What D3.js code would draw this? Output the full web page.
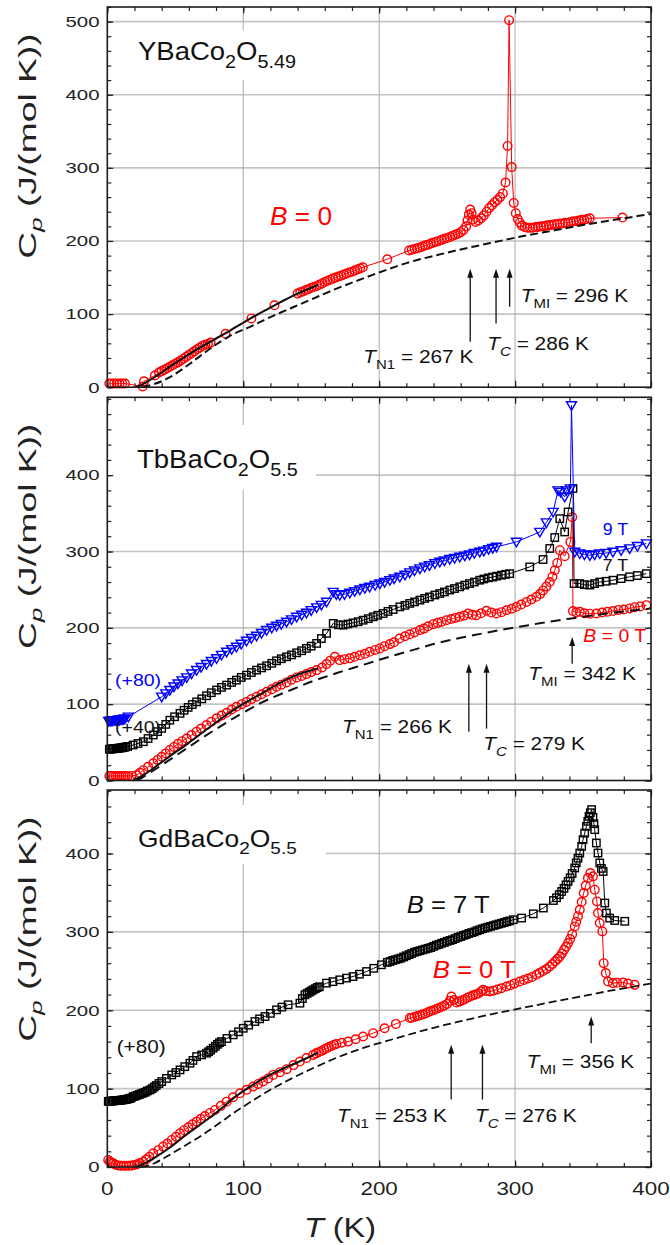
<!DOCTYPE html>
<html>
<head>
<meta charset="utf-8">
<script src="https://cdn.jsdelivr.net/npm/d3@7"></script>
<style>
  html, body { margin: 0; padding: 0; background: #fff; }
  svg { display: block; }
</style>
</head>
<body>
<svg id="chart" width="670" height="1245"></svg>
<script>
// ---------- axis ticks ----------
const T_TICKS = [0, 100, 200, 300, 400];
const CP_TICKS = [0, 100, 200, 300, 400, 500];

// ---------- YBaCo2O5.49, B = 0 : [T (K), Cp (J/(mol K))] ----------
const ybco_B0 = [
  [1.5,5],[3,5],[5,5],[7,5],[9,5],[11,5],[13,5],[26,1],[27,8],[35,16],
  [38,20],[40,22],[42,24],[44,26],[46,28],[48,30],[50,32],[52,34],[54,36.5],[56,39],
  [58,41.5],[60,44],[62,46.5],[64,49],[66,52],[68,54],[70,56.5],[72,58],[74,59],[76,61],
  [87,73],[106,94],[123,112],[140,128],[142,130],[144,131],[146,133],[148,134],[150,136],[152,137],
  [154,138.5],[156,140],[158,142],[160,144],[162,145.5],[164,147],[166,148.5],[168,150],[170,151.5],[172,152.5],
  [174,154],[176,155.5],[178,157],[180,158],[182,159.5],[184,161],[186,162.5],[188,164],[206,175],[222,187],
  [224,188],[226,189],[228,190],[230,191],[232,192.5],[234,194],[236,195],[238,196.5],[240,198],[242,199],
  [244,200],[246,201.5],[248,203],[250,204],[252,205.5],[254,207],[256,208.5],[258,210],[260,212],[262,215],
  [264,220],[265,228],[266,236],[267,243],[268,238],[269,229],[271,226],[273,228],[275,231],[277,235],
  [279,240],[281,245],[283,249],[285,253],[287,256],[289,260],[291,265],[293,280],[294.5,330],[295.6,502],
  [297.5,301],[299,252],[300.5,238],[302,230],[303.5,225],[305,221],[307,219],[309,218],[311,218],[313,218],
  [315,219],[317,219],[319,220],[321,220],[323,221],[325,222],[327,222],[329,223],[331,223],[333,224],
  [335,224],[337,225],[339,225],[341,226],[343,227],[345,227],[347,228],[349,229],[351,229],[353,230],
  [355,231],[379,232]
];
const ybco_fit = [
  [21,0],[25,3],[30,8],[35,14],[40,20],[45,27],[50,33],[55,39],[60,45],[65,51],
  [70,56],[75,61],[80,67],[85,72],[90,77],[95,83],[100,88],[105,94],[110,99],[115,104],
  [120,109],[125,114],[130,119],[135,123.5],[140,128],[145,132],[150,136],[155,140]
];
const ybco_lattice = [
  [26,0],[30,2],[35,4.5],[40,8],[45,12.5],[50,18],[55,24.5],[60,31],[65,38],[70,45],
  [75,52],[80,58.5],[85,64.5],[90,70],[95,75],[100,78.5],[105,82.5],[110,87],[115,91.5],[120,96],
  [125,100],[130,104],[135,108],[140,112],[145,116],[150,120],[155,124],[160,128],[170,136],[180,143],
  [190,150],[200,157],[210,163.5],[220,170],[230,175],[240,179.5],[250,184],[260,188.5],[270,192.5],[280,196.5],
  [290,200.5],[300,204.5],[310,208],[320,211.5],[330,215],[340,218.5],[350,222],[360,225],[370,228],[380,231],
  [390,234],[400,237]
];

// ---------- TbBaCo2O5.5 ----------
const tbco_B0 = [
  [1.5,6],[3,6],[4.5,6],[6,6],[7.5,6],[9,6],[10.5,6],[12,6],[13.5,6],[15,6],
  [18,6],[21.6,7],[24,10],[26.5,13.5],[30,18],[33.8,22.5],[37,27],[40,31],[43,35.5],[46,40],
  [49,44],[52,48],[55,51.5],[58.4,55],[62,59.5],[65.7,64],[69,68],[73,72.6],[76.5,77],[80.4,81.4],
  [84,85],[87.8,88.7],[91.5,93],[95,96.6],[99,100],[102.4,103],[106,106.5],[109.8,109.7],[113.5,113],[117.2,116.2],
  [121,119.5],[124.5,122.8],[128,125.5],[131.9,128.5],[135.5,132],[139.3,135],[143,137],[146.5,139.4],[150,142],[154,144.6],
  [158,148],[161.3,152.5],[164,157],[167.4,162],[171,157.7],[174.5,159],[178.4,160],[182,162],[185.8,164],[189.5,166],
  [193,168.6],[197,171],[200.5,173],[204,176],[207.9,178.7],[211,181],[215,186],[219,189],[222.5,191.5],[226,194],
  [230,197],[233,199],[236,202],[239.7,204.8],[243,206.5],[246,208],[249.5,210],[253,211.5],[256,213],[259.3,214.4],
  [262.5,216],[265.5,218.8],[268.5,217],[271.6,216.6],[275,219],[279,222.3],[282.5,220],[286.3,218.8],[290,220.5],[293.7,223],
  [297.5,225],[301,227.5],[304.5,230.5],[308.4,234],[312,237],[315.7,240.6],[318.5,244.5],[320.6,249],[323,254],[325.5,260],
  [327.5,267],[329.2,275.5],[331,285],[332.9,301.7],[336.5,293.8],[340.7,312.6],[342,345],[342.6,222],[345,220],[347.6,221],
  [351,219],[355,218.5],[359.8,218.8],[364,220],[368,221],[372,222],[376,223.5],[380,224],[384.3,225.4],[388,227],
  [392,228],[396.6,229.7]
];
// 7 T, shifted by +40
const tbco_B7 = [
  [1.5,41],[2.5,41],[3.5,41.5],[4.5,41.5],[5.5,42],[6.5,42],[7.5,42],[8.5,42.5],[9.5,42.5],[10.5,43],
  [11.5,43],[12.5,43.5],[13.5,44],[15,44.5],[19,46.5],[22.5,48.5],[26.5,50.8],[30,55],[33.8,59.6],[37,64],
  [40,68.3],[43,73.5],[46,79],[49.5,83.5],[53.5,88],[56.5,92],[59.5,95.8],[62.5,99.5],[65.7,103],[69.5,107],
  [73,111],[76.5,115],[80.4,118.5],[84,122],[87.8,125],[91.5,128.5],[95,131.5],[98.5,135],[102.4,138],[106,141.5],
  [109.8,144.6],[113.5,147.5],[117.2,150.3],[121,153.5],[124.5,156.8],[128,159.5],[131.9,162],[135.5,164.5],[139.3,167.3],[143,170],
  [146.5,173],[150,176],[154,179.6],[157.5,186],[161.3,192.7],[166.2,205.8],[170,204],[173.5,203.5],[177,205],[180.8,206.5],
  [184.5,208],[188.2,210],[192,212],[195.6,214.4],[199,216.5],[202.9,218.8],[206.5,221.5],[210.3,224],[215.2,227.5],[219,229.5],
  [222.5,232],[226,234],[230,236.3],[233.5,238.5],[237,240.5],[241,243],[244.6,245],[248,247],[252,249.5],[255.5,251.5],
  [259.3,253.7],[263,256],[266.5,258],[270,260],[274,262.4],[277,264],[280.5,265.5],[283.5,266.5],[286.3,267.7],[290,269],
  [293,270],[296,271],[310.8,279.8],[320.6,289.5],[325.5,304],[329.2,318.3],[332.9,343],[336.5,325.6],[339,351.8],[342.6,382.5],
  [343.4,258],[347.6,258],[351,256.5],[355,256],[358.5,258],[362.3,260],[367,261],[372,262.4],[378,264.5],[384.3,266.8],
  [390,268.5],[396.6,271]
];
// 9 T, shifted by +80
const tbco_B9 = [
  [1,78],[2,78],[3,78.5],[4,78.5],[5,79],[6,79],[7,79],[8,79.5],[9,79.5],[10,80],
  [11,80],[12,80.5],[13,81],[15.5,83.5],[40,109.7],[43,114],[46,118.5],[49,123],[52,127],[55,131],
  [58.4,135],[62,140],[65.7,144.6],[69,148.5],[73,152.5],[76.5,156.5],[80.4,160],[84,164.5],[87.8,168.6],[91.5,172],
  [95,175],[98.5,179],[102.4,183],[106,186.5],[109.8,189.5],[113.5,193],[117.2,197],[121,200],[124.5,202.6],[128,205],
  [131.9,207.9],[135.5,211],[139.3,214.4],[143,217],[146.5,219.6],[150,223],[154,226.7],[157.5,230],[161.3,234],[166.2,247],
  [168.5,244],[171,242.8],[174.5,244],[178.4,245.8],[182,248],[185.8,250],[189.5,252],[193,253.7],[197,256],[200.5,258],
  [204,260],[207.9,262.4],[211,264.5],[215.2,266.8],[219,269.5],[222.5,272.5],[226,275],[230,277.7],[233.5,280],[237,282],
  [241,284.5],[244.6,286.4],[248,288],[252,290],[255.5,291.5],[259.3,293],[263,294.5],[266.5,296],[270,298],[274,299.5],
  [277,301],[280.5,303],[283.5,304.5],[286.3,306],[301,312.6],[318.2,325.6],[323,338],[328,351.8],[331.6,380],[333.5,378],
  [336.5,371.5],[337.7,380],[340.7,382.5],[341.5,491.5],[343.9,299.5],[347.6,297.4],[351,296],[355,295],[358.5,296],[362.3,297.4],
  [367,298],[372,299.5],[378,301.5],[384.3,304],[390,307],[396.6,310.5]
];
const tbco_fit = [
  [19,0],[25,5],[30,11],[35,17.5],[40,24],[45,30.5],[50,37],[56,44],[60,49.5],[65,56],
  [70,63],[75,69.5],[80,76],[85,82.5],[90,89],[95,95],[100,100.5],[105,105.5],[110,110.5],[115,115.5],
  [120,121],[125,126],[130,130.5],[135,135],[140,138.5],[145,142],[150,144.5],[155,147]
];
const tbco_lattice = [
  [22,0],[25,3],[30,8.5],[40,20],[50,32],[60,44],[70,56],[80,67.5],[90,78.5],[100,89],
  [112,101],[120,107.5],[130,115],[140,122],[146.5,127],[150,129.5],[160,135.5],[170,141.5],[180,147],[190,152.5],
  [200,158],[210,163.5],[220,168.5],[230,173.5],[240,179],[250,183],[260,187],[270,190.5],[280,194],[290,197.5],
  [300,200.5],[310,203.5],[320,206.5],[330,209.5],[340,212],[350,214.5],[360,217],[370,219.5],[380,221.5],[390,223.5],
  [400,225.5]
];

// ---------- GdBaCo2O5.5 ----------
const gdco_B0 = [
  [0.7,9],[2,7],[3,5.5],[4.4,4.7],[6,3],[8,2],[10,1.5],[12,1.5],[14,1.5],[16,1.5],
  [18,2],[20,2.5],[22,3.5],[24,5],[26.5,6.8],[28.5,9.5],[31,13],[33.8,17.5],[37.5,21.5],[41.1,26],
  [44.2,30],[47.4,34.5],[50.5,38.5],[53.5,43],[56.5,47],[59.6,50.7],[62.7,54.5],[65.7,57.9],[68.8,61.5],[71.8,65],
  [75.5,69],[79.2,72.8],[83.5,78],[87.8,83.4],[92.5,89],[97.6,94],[102.5,98.5],[107.3,102.6],[111,106],[114.6,109],
  [118.3,113],[122,117.5],[127,121],[131.9,124.8],[137,130],[141.7,134.5],[146.5,139],[151.4,143],[153.5,145],[155.5,146.5],
  [157.5,148],[159.5,150],[161.3,151.6],[163,153],[165,154.5],[166.8,156],[168.6,157],[172.5,158.5],[177.2,160],[182.7,163],
  [188.2,166.4],[195.6,170.7],[204,177],[212.3,182.6],[222.6,190],[224,190.5],[226,191.5],[228,192.5],[230,193.5],[232,194.5],
  [234,196],[236,197.5],[238,199],[240,200],[242,201.5],[244,203],[246,204.5],[248,206],[250,208],[252,212],
  [253.2,217.5],[255,213],[256.9,209.8],[259,211],[261,212.5],[263,214],[265,216],[267,217.5],[269,219],[271,220],
  [273,221.5],[275,224],[276.5,226],[278.5,224.5],[281.4,223.9],[284,225],[287,226.5],[290,228],[293.6,230.3],[296.5,232],
  [299.5,234],[303.4,236.7],[306.5,238.5],[309.5,240.5],[312.5,242.5],[315.7,245.2],[318,247.5],[320.5,250],[323,252.5],[325.5,255.8],
  [327.5,259],[329.5,262.5],[331.3,265.5],[332.9,268.6],[334.5,272.5],[336,277],[337.5,281],[339,285.7],[340.5,291],[342,297],
  [343.9,306.9],[345,313],[346.3,320],[347.6,328.2],[349,338],[350.5,349.6],[352,359],[353.6,368.7],[355.4,375],[357.3,370.8],
  [358.6,353.8],[360.2,338.8],[361,324],[362.3,311.2],[364.2,300.5],[365.2,260],[366.7,247.4],[368.4,236.7],[372,234.6],[375,235],
  [379.4,235.4],[383,234],[388,232.4]
];
// 7 T, shifted by +80
const gdco_B7 = [
  [0.7,83.7],[1.5,84],[2.5,84],[3.5,84],[4.5,84.5],[5.5,84.5],[6.5,85],[7.5,85],[8.5,85],[9.5,85],
  [10.5,85.5],[11.5,85.5],[12.5,86],[13.5,86],[14.5,86.5],[15.5,87],[16.5,87.5],[17.5,88],[19,89.8],[20.5,90.5],
  [22,91.5],[23.5,92.5],[25,93.5],[26.5,94.5],[28,95.5],[29.5,97],[31.4,98.3],[33,100],[34.5,102],[36,104],
  [38,106.5],[40,109],[43.5,113],[47.4,117.5],[50.5,120.5],[53.5,123.9],[57,128],[60.8,132.4],[63,136],[65.7,140.9],
  [69.5,143],[73,145.2],[74.5,147],[76,149],[77.9,151.6],[79.5,154],[81,156.5],[82.5,158.5],[84,160],[88,164],
  [92.6,168.6],[96.5,172.5],[100,177],[104,181],[108.6,185.6],[112,189],[116,192],[120,196],[124.5,200.5],[128.5,204],
  [133,207],[141.7,209],[143.5,215],[145.4,219.7],[147,221.5],[148.5,223],[150,224.5],[151.4,226],[153,227.5],[154.5,229],
  [156,230],[161.3,234.6],[166,236.5],[171,238.8],[176,241],[180.8,243],[185.5,246],[190.7,249.4],[196,253.5],[201.7,258],
  [206,261],[208,262.2],[210,263.5],[212,264.5],[214,265.5],[216,266.5],[218,268],[220,269.5],[222,271],[224,272.5],
  [226,274],[228,275],[230,276],[232,277],[234,278],[236,279],[238,280],[240,281.5],[242,283],[244,284],
  [246,285.5],[248,286.5],[250,288],[252,289],[254,290],[256,291.5],[258,293],[260,294],[262,295.5],[264,296.5],
  [266,298],[268,299],[270,300],[272,301.5],[274,302.7],[276,304],[278,305],[280,306],[282,307],[284,308],
  [286,309],[288,310],[290,311],[292,312],[294,313],[296,314],[298.7,315.5],[304.8,317.6],[313.4,323],[320.8,330.4],
  [328.2,340],[330.5,343.5],[332.5,347.5],[334.3,351.6],[336,355.5],[337.5,360],[339,364.4],[340.5,369],[342,374.5],[343.9,381.5],
  [345,388],[346.3,394],[347.6,400.6],[349,409],[350,417.6],[351.2,426],[352.5,434.6],[353.5,441],[354.4,447.4],[355.4,452],
  [356.3,456],[357.3,446],[358,438],[358.6,430.4],[359.8,413.4],[361,400.6],[362.3,387.9],[363.5,381],[364.8,377],[366,336.8],
  [367.2,324],[369.6,317.6],[373.3,314.5],[380.7,313.5]
];
const gdco_fit = [
  [21,0],[25,2.5],[30,7],[35,12],[40,17.5],[45,23.5],[50,30],[55,37],[60,43.5],[65,50],
  [70,56],[75,62.5],[80,69],[85,76],[90,84],[95,90.5],[100,97],[105,102.5],[110,108],[115,113],
  [120,118],[125,122],[130,126],[135,130],[140,133.5],[145,137.5],[150,141.5],[155,146]
];
const gdco_lattice = [
  [25,0],[30,1.5],[35,5],[40,9.5],[45,14.5],[50,19.8],[55,25],[60,30.2],[65,35.4],[70,40.8],
  [75,46.8],[80,52.8],[85,59],[90,65.3],[95,71.4],[100,77],[105,82.5],[110,88],[115,93.5],[120,98.6],
  [125,103.3],[130,108],[135,112.5],[140,116.8],[145,121],[150,125],[160,133],[170,140.5],[180,147],[190,153],
  [200,158],[210,163],[220,168],[230,173],[240,177.5],[250,182],[260,186],[270,190],[280,194],[290,197.5],
  [300,201],[310,204.5],[320,208],[330,211.5],[340,215],[350,218],[360,221.5],[370,225],[380,228],[390,231],
  [400,234]
];

// ---------- transition markers: [T, arrow tail Cp, arrow head Cp] ----------
const ybco_arrows = [[267, 62, 162], [286, 87, 162], [296, 110, 162]];
const tbco_arrows = [[266, 64, 153], [279, 68, 153], [342, 153, 188]];
const gdco_arrows = [[253, 86, 156], [276, 86, 156], [356, 158, 192]];

// ---------- drawing ----------
const svg = d3.select('#chart');
const FONT = '"Liberation Sans", Arial, Helvetica, sans-serif';
const RED = '#f00', BLUE = '#00f', BLACK = '#000';

const x = d3.scaleLinear().domain([0, 400]).range([107.3, 651]);

const panels = [
  { top: 7,     bottom: 387.2, ymax: 520, ylab: 500 },
  { top: 397.3, bottom: 780.5, ymax: 502, ylab: 400 },
  { top: 790,   bottom: 1167,  ymax: 481, ylab: 400 }
];
panels.forEach(p => {
  p.y = d3.scaleLinear().domain([0, p.ymax]).range([p.bottom, p.top]);
  p.g = svg.append('g');
});

// rich text: parts = [{t, i (italic), sub}]
function richText(parent, px, py, parts, o) {
  const size = o.size, sx = o.sx || 1;
  const g = parent.append('g').attr('transform', `translate(${px},${py}) scale(${sx},1)`);
  const t = g.append('text')
    .attr('font-family', FONT)
    .attr('font-size', size)
    .attr('fill', o.color || '#111')
    .attr('text-anchor', o.anchor || 'start');
  let shift = 0;
  parts.forEach(p => {
    const ts = t.append('tspan').text(p.t);
    if (p.i) ts.attr('font-style', 'italic');
    const want = p.sub ? size * 0.32 : 0;
    if (p.sub) ts.attr('font-size', size * 0.72);
    if (want !== shift) { ts.attr('dy', want - shift); shift = want; }
  });
  return g;
}

function drawGrid(p) {
  const g = p.g, y = p.y;
  const L = x.range()[0], R = x.range()[1];
  g.append('g').selectAll('line').data(CP_TICKS.filter(v => v > 0 && v <= p.ylab))
    .join('line')
    .attr('x1', L).attr('x2', R).attr('y1', d => y(d)).attr('y2', d => y(d))
    .attr('stroke', '#c4c4c4').attr('stroke-width', 1.6);
  g.append('g').selectAll('line').data([100, 200, 300])
    .join('line')
    .attr('x1', d => x(d)).attr('x2', d => x(d)).attr('y1', p.top).attr('y2', p.bottom)
    .attr('stroke', '#a8a8a8').attr('stroke-width', 1);
}

function drawAxes(p, withLabels) {
  const g = p.g, y = p.y;
  const L = x.range()[0], R = x.range()[1];
  const majors = CP_TICKS.filter(v => v <= p.ylab);
  const xMinor = d3.range(0, 401, 20);
  const yMinor = d3.range(0, p.ymax + 0.1, 20);
  const mk = (axisFn, scale, vals, len, pos) => {
    const a = axisFn(scale).tickValues(vals).tickSizeInner(-len).tickSizeOuter(0).tickFormat('');
    const ax = g.append('g').attr('transform', pos).call(a);
    ax.select('.domain').remove();
    ax.selectAll('.tick line').attr('stroke', '#222').attr('stroke-width', 1.2);
    return ax;
  };
  // minor + major ticks, inward on all four sides
  mk(d3.axisBottom, x, xMinor, 4, `translate(0,${p.bottom})`);
  mk(d3.axisTop, x, xMinor, 4, `translate(0,${p.top})`);
  mk(d3.axisLeft, y, yMinor, 4, `translate(${L},0)`);
  mk(d3.axisRight, y, yMinor, 4, `translate(${R},0)`);
  mk(d3.axisBottom, x, T_TICKS, 6.5, `translate(0,${p.bottom})`);
  mk(d3.axisTop, x, T_TICKS, 6.5, `translate(0,${p.top})`);
  mk(d3.axisRight, y, majors, 6, `translate(${R},0)`);
  mk(d3.axisLeft, y, majors, 6, `translate(${L},0)`);
  majors.forEach(v => {
    richText(g, 99.5, y(v) + 5.3, [{ t: String(v) }], { size: 15, sx: 1.36, anchor: 'end', color: '#222' });
  });
  if (withLabels) {
    T_TICKS.forEach(v => {
      richText(g, x(v), 1195, [{ t: String(v) }], { size: 17.5, sx: 1.28, anchor: 'middle', color: '#222' });
    });
  }
  // frame
  g.append('rect').attr('x', L).attr('y', p.top).attr('width', R - L).attr('height', p.bottom - p.top)
    .attr('fill', 'none').attr('stroke', '#1c1c1c').attr('stroke-width', 1.6);
  // y title
  const cy = p.top + 139;
  const tg = g.append('g').attr('transform', `translate(36,${cy}) rotate(-90) scale(1.62,1)`);
  const tt = tg.append('text').attr('font-family', FONT).attr('font-size', 23).attr('fill', '#222')
    .attr('text-anchor', 'middle');
  tt.append('tspan').text('C');
  tt.append('tspan').text('p').attr('font-style', 'italic').attr('font-size', 16).attr('dy', 6);
  tt.append('tspan').text(' (J/(mol K))').attr('dy', -6);
}

function labelBox(p, x0, y0, x1, y1) {
  p.g.append('rect').attr('x', x0).attr('y', y0).attr('width', x1 - x0).attr('height', y1 - y0).attr('fill', '#fff');
}

function series(p, data, color, shape) {
  const y = p.y;
  const line = d3.line().x(d => x(d[0])).y(d => y(d[1]));
  p.g.append('path').attr('d', line(data)).attr('fill', 'none').attr('stroke', color).attr('stroke-width', 1);
  const m = p.g.append('g').attr('fill', 'none').attr('stroke', color).attr('stroke-width', 1.4);
  if (shape === 'circle') {
    m.selectAll('circle').data(data).join('circle')
      .attr('cx', d => x(d[0])).attr('cy', d => y(d[1])).attr('r', 4.3);
  } else if (shape === 'square') {
    m.selectAll('rect').data(data).join('rect')
      .attr('x', d => x(d[0]) - 3.7).attr('y', d => y(d[1]) - 3.7).attr('width', 7.4).attr('height', 7.4);
  } else {
    m.selectAll('path').data(data).join('path')
      .attr('d', 'M-5,-3.6L5,-3.6L0,5Z')
      .attr('transform', d => `translate(${x(d[0])},${y(d[1])})`);
  }
}

function curve(p, data, dash, width) {
  const line = d3.line().x(d => x(d[0])).y(d => p.y(d[1])).curve(d3.curveBasis);
  const path = p.g.append('path').attr('d', line(data)).attr('fill', 'none')
    .attr('stroke', '#111').attr('stroke-width', width);
  if (dash) path.attr('stroke-dasharray', dash);
}

function arrows(p, list) {
  list.forEach(([T, c0, c1]) => {
    const xx = x(T), y0 = p.y(c0), y1 = p.y(c1);
    p.g.append('line').attr('x1', xx).attr('x2', xx).attr('y1', y0).attr('y2', y1 + 8)
      .attr('stroke', '#111').attr('stroke-width', 1.3);
    p.g.append('path').attr('d', `M${xx},${y1}L${xx - 3},${y1 + 9}L${xx + 3},${y1 + 9}Z`).attr('fill', '#111');
  });
}

const ann = (p, px, py, parts, size, color, sx, anchor) =>
  richText(p.g, px, py, parts, { size, color: color || '#111', sx: sx || 1.12, anchor });

// ----- panel 1: YBaCo2O5.49 -----
{
  const p = panels[0];
  drawGrid(p);
  labelBox(p, 128, 30, 312, 80);
  ann(p, 138, 60, [{ t: 'YBaCo' }, { t: '2', sub: true }, { t: 'O' }, { t: '5.49', sub: true }], 25, '#111', 1.1);
  series(p, ybco_B0, RED, 'circle');
  curve(p, ybco_fit, null, 2);
  curve(p, ybco_lattice, '8,4', 2);
  arrows(p, ybco_arrows);
  ann(p, 270, 225, [{ t: 'B', i: true }, { t: ' = 0' }], 25, RED, 1.05);
  ann(p, 520.7, 301.7, [{ t: 'T', i: true }, { t: 'MI', sub: true }, { t: ' = 296 K' }], 18.6);
  ann(p, 487.3, 350, [{ t: 'T', i: true }, { t: 'C', sub: true, i: true }, { t: ' = 286 K' }], 18.6);
  ann(p, 473.3, 363.3, [{ t: 'T', i: true }, { t: 'N1', sub: true }, { t: ' = 267 K' }], 18.6, '#111', 1.12, 'end');
  drawAxes(p, false);
}

// ----- panel 2: TbBaCo2O5.5 -----
{
  const p = panels[1];
  drawGrid(p);
  labelBox(p, 108, 425, 316, 490);
  ann(p, 137, 468, [{ t: 'TbBaCo' }, { t: '2', sub: true }, { t: 'O' }, { t: '5.5', sub: true }], 25, '#111', 1.1);
  series(p, tbco_B0, RED, 'circle');
  series(p, tbco_B7, BLACK, 'square');
  series(p, tbco_B9, BLUE, 'triangle');
  curve(p, tbco_fit, null, 2);
  curve(p, tbco_lattice, '10,6', 2);
  arrows(p, tbco_arrows);
  ann(p, 602.7, 535, [{ t: '9 T' }], 16.3, BLUE, 1.09);
  ann(p, 602.7, 570.5, [{ t: '7 T' }], 16.3, '#111', 1.09);
  ann(p, 583.3, 641.5, [{ t: 'B', i: true }, { t: ' = 0 T' }], 18.7, RED, 1.04);
  ann(p, 528.3, 680, [{ t: 'T', i: true }, { t: 'MI', sub: true }, { t: ' = 342 K' }], 18.6);
  ann(p, 452, 733.3, [{ t: 'T', i: true }, { t: 'N1', sub: true }, { t: ' = 266 K' }], 18.6, '#111', 1.12, 'end');
  ann(p, 483.3, 750, [{ t: 'T', i: true }, { t: 'C', sub: true, i: true }, { t: ' = 279 K' }], 18.6);
  ann(p, 115, 686, [{ t: '(+80)' }], 17, BLUE, 1.15);
  ann(p, 115, 733, [{ t: '(+40)' }], 17, '#111', 1.15);
  drawAxes(p, false);
}

// ----- panel 3: GdBaCo2O5.5 -----
{
  const p = panels[2];
  drawGrid(p);
  labelBox(p, 108, 805, 326, 864);
  ann(p, 138, 846.7, [{ t: 'GdBaCo' }, { t: '2', sub: true }, { t: 'O' }, { t: '5.5', sub: true }], 24, '#111', 1.1);
  series(p, gdco_B0, RED, 'circle');
  series(p, gdco_B7, BLACK, 'square');
  curve(p, gdco_fit, null, 2);
  curve(p, gdco_lattice, '8,4', 1.8);
  arrows(p, gdco_arrows);
  ann(p, 406.7, 913, [{ t: 'B', i: true }, { t: ' = 7 T' }], 24, '#111', 1.07);
  ann(p, 432.7, 978, [{ t: 'B', i: true }, { t: ' = 0 T' }], 24, RED, 1.07);
  ann(p, 116.7, 1053, [{ t: '(+80)' }], 18, '#111', 1.15);
  ann(p, 526.7, 1068.3, [{ t: 'T', i: true }, { t: 'MI', sub: true }, { t: ' = 356 K' }], 18.6);
  ann(p, 447, 1121.7, [{ t: 'T', i: true }, { t: 'N1', sub: true }, { t: ' = 253 K' }], 18.6, '#111', 1.12, 'end');
  ann(p, 475, 1121.7, [{ t: 'T', i: true }, { t: 'C', sub: true, i: true }, { t: ' = 276 K' }], 18.6);
  drawAxes(p, true);
}

// x-axis title
richText(svg, 340, 1237, [{ t: 'T', i: true }, { t: ' (K)' }], { size: 27, sx: 1.2, anchor: 'middle', color: '#222' });
</script>
</body>
</html>
